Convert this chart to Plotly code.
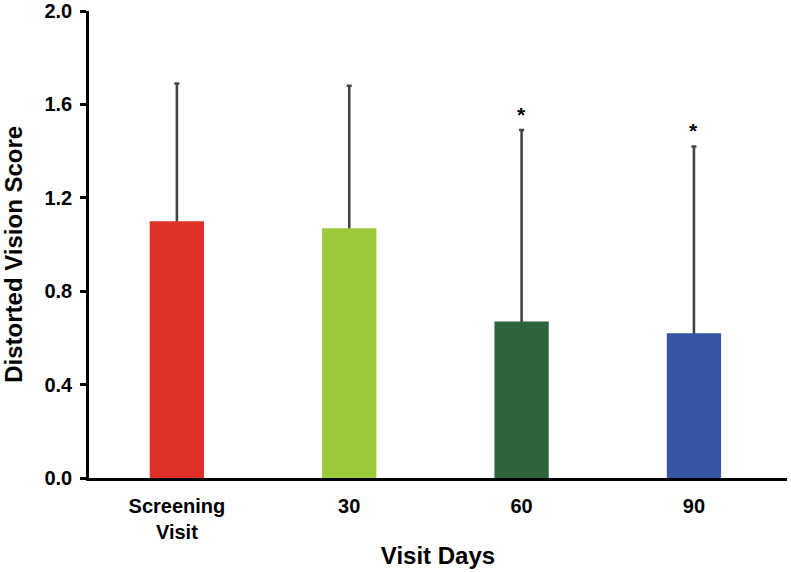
import plotly.graph_objects as go

categories = ["Screening<br>Visit", "30", "60", "90"]
means = [1.10, 1.07, 0.67, 0.62]
upper_err = [0.59, 0.61, 0.82, 0.80]
colors = ["#E03127", "#9BC93A", "#2E643C", "#3655A5"]
significant = [False, False, True, True]

x = list(range(len(categories)))
tops = [m + e for m, e in zip(means, upper_err)]

fig = go.Figure()
# whiskers (thin bars from 0 to mean+SD, hidden below the coloured bars), with a cap
fig.add_trace(go.Bar(
    x=x, y=tops, width=0.015,
    marker=dict(color="#444444", line=dict(width=0)),
    error_y=dict(type="data", array=[0]*4, color="#444444", thickness=2.5, width=2.5),
    showlegend=False, hoverinfo="skip",
))
fig.add_trace(go.Bar(
    x=x, y=means, width=0.315,
    marker=dict(color=colors, line=dict(width=0)),
    showlegend=False,
))

for xi, t, s in zip(x, tops, significant):
    if s:
        fig.add_annotation(x=xi, y=t, text="<b>*</b>", showarrow=False,
                           yanchor="bottom", yshift=2,
                           font=dict(size=21, color="black", family="Liberation Sans"))

# y-axis title as annotation for exact placement
fig.add_annotation(xref="paper", yref="paper", x=0, y=0.478, xshift=-75,
                   text="<b>Distorted Vision Score</b>", textangle=-90, showarrow=False,
                   xanchor="center", yanchor="middle",
                   font=dict(size=24, color="black", family="Liberation Sans"))

fig.update_layout(
    width=791, height=572,
    margin=dict(l=89, r=4, t=11, b=94),
    plot_bgcolor="white", paper_bgcolor="white",
    font=dict(family="Liberation Sans", color="black"),
    barmode="overlay",
)
fig.update_xaxes(
    range=[-0.51, 3.54], tickmode="array", tickvals=x, ticktext=[f"<b>{c}</b>" for c in categories],
    tickfont=dict(size=20), showline=True, linecolor="black", linewidth=2.5,
    ticks="", ticklabelstandoff=8, showgrid=False, zeroline=False, automargin=False,
    title=dict(text="<b>Visit Days</b>", font=dict(size=24), standoff=6),
)
fig.update_yaxes(
    range=[0, 2.0], tickvals=[0, 0.4, 0.8, 1.2, 1.6, 2.0],
    ticktext=["<b>0.0</b>", "<b>0.4</b>", "<b>0.8</b>", "<b>1.2</b>", "<b>1.6</b>", "<b>2.0</b>"],
    tickfont=dict(size=20), showline=True, linecolor="black", linewidth=2.5,
    ticks="outside", ticklen=6, tickwidth=2.5, tickcolor="black", ticklabelstandoff=4,
    showgrid=False, zeroline=False, automargin=False,
)

fig.write_html("out.html", post_script="document.body.style.margin='0';",
               config={"displayModeBar": False})
